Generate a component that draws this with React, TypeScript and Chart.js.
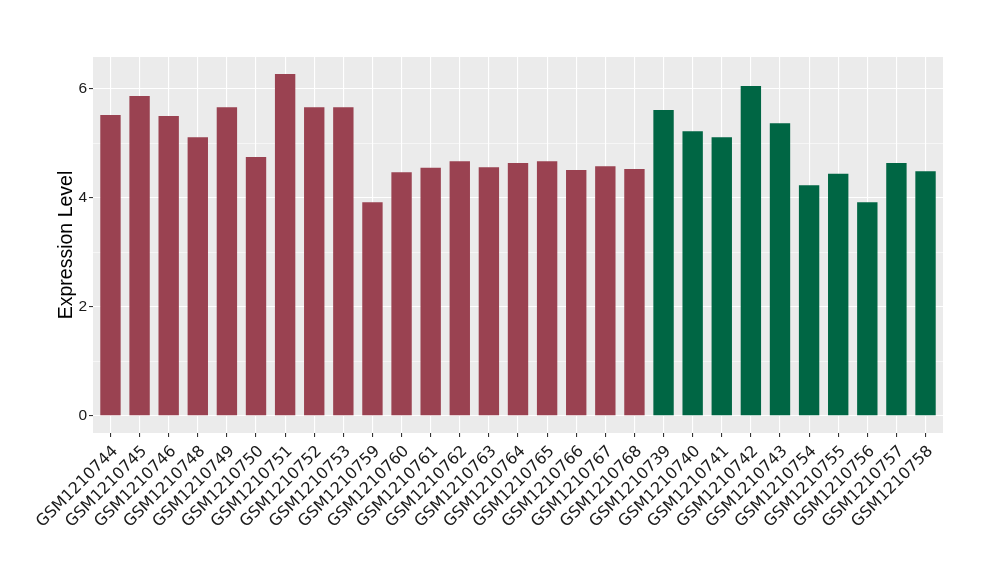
import React, { useEffect, useRef } from "react";
import { Chart, registerables } from "chart.js";

Chart.register(...registerables);

const samples = [
  "GSM1210744", "GSM1210745", "GSM1210746", "GSM1210748", "GSM1210749",
  "GSM1210750", "GSM1210751", "GSM1210752", "GSM1210753", "GSM1210759",
  "GSM1210760", "GSM1210761", "GSM1210762", "GSM1210763", "GSM1210764",
  "GSM1210765", "GSM1210766", "GSM1210767", "GSM1210768", "GSM1210739",
  "GSM1210740", "GSM1210741", "GSM1210742", "GSM1210743", "GSM1210754",
  "GSM1210755", "GSM1210756", "GSM1210757", "GSM1210758",
];

const expression = [
  5.52, 5.87, 5.50, 5.11, 5.66, 4.75, 6.27, 5.66, 5.66, 3.92,
  4.47, 4.55, 4.67, 4.56, 4.64, 4.67, 4.51, 4.58, 4.53, 5.61,
  5.22, 5.11, 6.05, 5.37, 4.23, 4.44, 3.92, 4.64, 4.49,
];

const groups = [
  "A", "A", "A", "A", "A", "A", "A", "A", "A", "A",
  "A", "A", "A", "A", "A", "A", "A", "A", "A", "B",
  "B", "B", "B", "B", "B", "B", "B", "B", "B",
];

const groupColors: Record<string, string> = { A: "#9A4251", B: "#006644" };

const yTicks = [0, 1, 2, 3, 4, 5, 6];

const panelBg = {
  id: "panelBg",
  beforeDraw(chart: any) {
    const { ctx, chartArea } = chart;
    ctx.save();
    ctx.fillStyle = "#EBEBEB";
    ctx.fillRect(chartArea.left, chartArea.top, chartArea.right - chartArea.left, chartArea.bottom - chartArea.top);
    ctx.restore();
  },
};

export default function App() {
  const ref = useRef<HTMLCanvasElement>(null);
  useEffect(() => {
    document.body.style.margin = "0";
    const maxV = Math.max(...expression);
    const exp = maxV * 0.05;
    const n = samples.length;
    const chart = new Chart(ref.current!, {
      type: "bar",
      data: {
        datasets: [
          {
            data: expression.map((v, i) => ({ x: i + 1, y: v })),
            backgroundColor: groups.map((g) => groupColors[g]),
            barPercentage: 0.7,
            categoryPercentage: 1,
          },
        ],
      },
      options: {
        responsive: false,
        animation: false,
        devicePixelRatio: 1,
        layout: { padding: { top: 57, right: 57, left: 0, bottom: 0 } },
        plugins: { legend: { display: false }, tooltip: { enabled: false } },
        scales: {
          x: {
            type: "linear",
            offset: false,
            min: 0.4,
            max: n + 0.6,
            afterBuildTicks: (scale: any) => {
              scale.ticks = samples.map((_, i) => ({ value: i + 1 }));
            },
            afterFit: (scale: any) => {
              scale.height = 147;
            },
            border: { display: false },
            grid: {
              offset: false,
              color: "#FFFFFF",
              lineWidth: 1.1,
              tickColor: "#333333",
              tickLength: 4,
              tickWidth: 1.1,
              drawTicks: true,
            },
            ticks: {
              autoSkip: false,
              minRotation: 45,
              maxRotation: 45,
              padding: 5,
              labelOffset: 5,
              color: "#1A1A1A",
              font: { family: "DejaVu Sans", size: 16 },
              callback: (v: any) => samples[Math.round(v) - 1] ?? "",
            },
          },
          y: {
            min: -exp,
            max: maxV + exp,
            afterBuildTicks: (scale: any) => {
              scale.ticks = yTicks.map((v) => ({ value: v }));
            },
            afterFit: (scale: any) => {
              scale.width = 93;
            },
            border: { display: false },
            grid: {
              color: "#FFFFFF",
              lineWidth: (ctx: any) => (ctx.tick && ctx.tick.value % 2 === 0 ? 1.1 : 0.55),
              tickColor: (ctx: any) => (ctx.tick && ctx.tick.value % 2 === 0 ? "#333333" : "rgba(0,0,0,0)"),
              tickLength: 4,
              tickWidth: 1.1,
              drawTicks: true,
            },
            ticks: {
              padding: 2,
              color: "#1A1A1A",
              font: { family: "Liberation Sans", size: 15.5 },
              callback: (v: any) => (Number(v) % 2 === 0 ? String(v) : ""),
            },
            title: {
              display: true,
              text: "Expression Level",
              color: "#000000",
              font: { family: "Liberation Sans", size: 19.5, weight: "normal" },
              padding: { top: 55, bottom: 0 },
            },
          },
        },
      },
      plugins: [panelBg],
    } as any);
    return () => chart.destroy();
  }, []);
  return (
    <div style={{ width: 1000, height: 580 }}>
      <canvas ref={ref} width={1000} height={580} />
    </div>
  );
}
